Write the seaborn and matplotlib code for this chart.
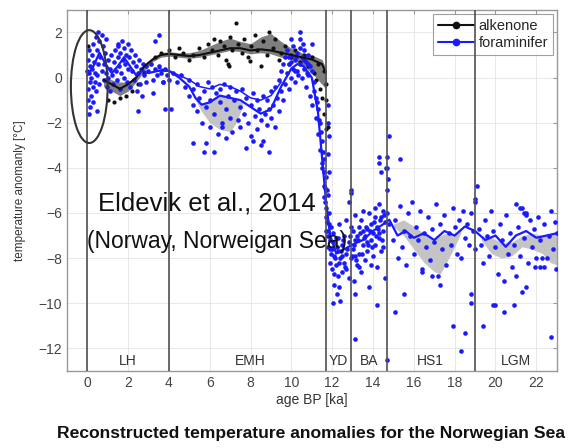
import numpy as np
import pandas as pd
import matplotlib
matplotlib.use("Agg")
import matplotlib.pyplot as plt
from matplotlib.patches import Ellipse
from matplotlib.lines import Line2D
import seaborn as sns

# ---------------- data ----------------
foram_pts_x = [
    0.0, 0.02, 0.05, 0.05, 0.08, 0.1, 0.1, 0.12, 0.15, 0.15, 0.2, 0.2, 0.22, 0.25, 0.28, 0.3, 0.3, 0.35, 0.38, 0.4,
    0.42, 0.45, 0.5, 0.5, 0.55, 0.55, 0.6, 0.6, 0.65, 0.7, 0.7, 0.75, 0.8, 0.8, 0.85, 0.9, 0.9, 0.95, 1.0, 1.0,
    1.1, 1.1, 1.15, 1.2, 1.25, 1.3, 1.35, 1.4, 1.45, 1.5, 1.5, 1.55, 1.6, 1.6, 1.65, 1.7, 1.75, 1.8, 1.8, 1.85,
    1.9, 1.95, 2.0, 2.0, 2.05, 2.1, 2.15, 2.2, 2.25, 2.3, 2.35, 2.4, 2.45, 2.5, 2.55, 2.6, 2.65, 2.7, 2.75, 2.8,
    2.9, 2.9, 3.0, 3.1, 3.2, 3.3, 3.4, 3.5, 3.6, 3.7, 3.8, 3.9, 4.0,
    0.5, 2.5, 1.5, 3.2, 3.8, 3.3, 3.5, 3.7, 4.1,
    4.2, 4.4, 4.6, 4.8, 5.0, 5.0, 5.2, 5.2, 5.4, 5.4, 5.5, 5.6, 5.7, 5.8, 5.8, 5.9, 6.0, 6.0, 6.1, 6.2,
    6.2, 6.3, 6.4, 6.5, 6.5, 6.6, 6.7, 6.8, 6.8, 6.9, 7.0, 7.0, 7.1, 7.2, 7.3, 7.4, 7.5, 7.5, 7.6, 7.7,
    7.8, 7.9, 8.0, 8.0, 8.1, 8.2, 8.3, 8.3, 8.4, 8.5, 8.5, 8.6, 8.7, 8.8, 8.8, 8.9, 9.0, 9.0, 9.1, 9.2,
    9.2, 9.3, 9.4, 9.4, 9.5, 9.5, 9.6, 9.6, 9.7, 9.7, 9.8, 9.8, 9.9, 9.9, 10.0, 10.0, 10.1, 10.1, 10.2, 10.2,
    10.3, 10.3, 10.4, 10.4, 10.5, 10.5, 10.6, 10.6, 10.7, 10.7, 10.8, 10.8, 10.9, 10.9, 11.0, 11.0, 11.1, 11.1, 11.2, 11.2,
    11.3, 11.3, 11.4, 11.4, 11.5, 11.5, 11.6, 11.6, 11.65, 11.7, 11.7, 11.75, 11.8, 11.8, 11.85, 11.9, 11.9, 11.95, 11.95,
    11.8, 11.8, 11.85, 11.8, 11.85, 11.8,
    5.7, 5.2, 6.6, 7.8, 8.1, 8.6, 8.9, 10.0, 11.0, 10.4,
    10.0, 10.2, 10.4, 10.6, 10.8, 10.35, 10.55, 10.25, 10.75, 9.9,
    11.25, 11.35, 11.45, 11.55, 11.6, 11.65, 11.7, 11.75, 11.8, 11.85, 11.9, 11.5, 11.6, 11.7,
    12.0, 12.0, 12.05, 12.1, 12.1, 12.2, 12.2, 12.25, 12.3, 12.3, 12.35, 12.4, 12.4, 12.5, 12.5, 12.6, 12.6, 12.7, 12.7, 12.8,
    12.8, 12.9, 12.9, 13.0, 13.0, 13.05, 13.1, 13.1, 13.2, 13.2, 13.3, 13.3, 13.4, 13.4, 13.5, 13.5, 13.6, 13.6, 13.7, 13.7,
    13.8, 13.8, 13.9, 13.9, 14.0, 14.0, 14.1, 14.1, 14.2, 14.2, 14.3, 14.3, 14.4, 14.4, 14.5, 14.5, 14.6, 14.6, 14.65, 14.7,
    14.7, 14.75, 14.7, 14.8, 14.8,
    12.05, 12.15, 12.25, 12.35, 12.45, 12.55, 12.65, 12.75, 12.85, 12.95, 13.05, 13.15, 13.25, 13.35, 13.45, 13.55,
    13.65, 13.75, 13.85, 13.95, 14.05, 14.15, 14.25, 14.35, 14.45, 14.55,
    12.1, 12.3, 12.5, 12.7, 12.9, 13.1, 13.3, 13.5, 13.7, 13.9, 14.1, 14.3, 14.5,
    13.1, 13.1, 14.2, 14.7, 15.1, 15.5, 12.05, 12.35, 12.9, 12.8, 14.3, 14.3, 14.4, 15.3, 14.7,
    15.0, 15.1, 15.2, 15.3, 15.4, 15.5, 15.6, 15.7, 15.8, 15.9, 16.0, 16.1, 16.2, 16.3, 16.4, 16.5, 16.6, 16.7, 16.8, 16.9,
    17.0, 17.1, 17.2, 17.3, 17.4, 17.5, 17.6, 17.7, 17.8, 17.9, 18.0, 18.1, 18.2, 18.3, 18.4, 18.5, 18.6, 18.7, 18.8, 18.9,
    19.0, 19.0,
    17.9, 18.5, 18.3, 18.8, 18.8, 17.3, 16.9, 16.4, 19.4, 19.1, 19.0,
    19.2, 19.3, 19.4, 19.5, 19.6, 19.7, 19.8, 19.9, 20.0, 20.1, 20.2, 20.3, 20.4, 20.5, 20.6, 20.7, 20.8, 20.9, 21.0, 21.1,
    21.2, 21.3, 21.4, 21.5, 21.6, 21.7, 21.8, 21.9, 22.0, 22.1, 22.2, 22.3, 22.4, 22.5, 22.6, 22.7, 22.8, 22.9, 22.95, 23.0,
    20.0, 19.9, 20.4, 20.9, 22.7, 21.95, 22.2, 22.4, 21.5, 21.3, 21.0, 21.2, 21.4, 21.5,
]
foram_pts_y = [
    0.3, -0.5, 0.8, -1.0, 0.2, -1.6, 1.2, -0.2, 0.5, -1.3, 0.0, -0.8, 1.0, 0.4, -0.4, 1.5, -1.1, 0.7, -0.2, 0.2,
    1.8, -0.6, 1.2, 0.1, 2.0, 0.6, 1.6, -0.3, 0.9, 1.9, 0.3, 1.4, 0.6, -0.1, 1.1, 0.2, 1.7, -0.4, 0.8, 0.0,
    0.4, -0.6, 1.0, 0.1, -0.3, 0.7, 1.2, 0.3, -0.1, 0.9, 1.4, 0.5, 1.1, -0.5, 0.2, 1.6, 0.8, 1.3, 0.0, 0.6,
    1.0, -0.2, 1.5, 0.4, 0.9, -0.4, 1.2, 0.3, 0.7, -0.1, 1.0, 0.5, -0.6, 0.2, 0.8, -0.3, 0.4, -0.8, 0.6, 0.1,
    0.5, -0.2, 0.3, 0.6, -0.1, 0.4, 0.1, 0.5, 0.2, -0.2, 0.4, 0.1, -0.1,
    -1.5, -1.5, 1.5, -0.7, -1.4, 1.6, 1.9, -0.2, -1.4,
    0.2, -0.2, 0.1, -0.4, -0.1, -0.8, -0.5, -1.2, -0.3, -1.5, -0.9, -2.0, -0.6, -1.3, -2.9, -0.2, -1.0, -2.2, -0.4, -1.6,
    -3.3, -0.7, -2.5, -0.5, -1.1, -2.0, -0.3, -1.4, -2.7, -0.8, -1.8, -0.4, -2.4, -1.0, -0.6, -1.9, -1.3, -2.2, -0.5, -1.6,
    -0.9, -2.0, -1.2, -2.6, -0.7, -1.7, -1.0, -2.3, -1.4, -1.9, -3.0, -0.8, -1.6, -2.1, -1.0, -1.4, -1.8, -0.6, -1.2, -2.2,
    -0.4, -0.9, -1.5, -0.1, -0.6, 0.3, -1.0, 0.6, -0.3, 0.9, 0.2, 1.2, -0.5, 0.6, 1.0, 0.0, 0.4, 1.4, 0.8, -0.2,
    1.1, 0.3, 0.6, 1.7, 0.9, 0.0, 1.2, 0.4, 0.7, -0.4, 1.0, 0.1, 0.5, -0.8, 0.3, -1.2, -0.2, -0.6, -1.8, -0.9,
    -1.4, -2.5, -2.0, -3.2, -2.8, -4.0, -3.6, -4.8, -5.5, -4.4, -6.2, -5.0, -6.8, -7.5, -6.0, -7.2, -8.2, -7.8, -6.6,
    -1.2, -2.0, -2.6, -3.4, -4.2, -5.2,
    -3.3, -2.9, -2.2, -3.1, -2.8, -2.8, -3.3, 1.7, 1.5, 2.0,
    0.7, 0.3, 1.3, 0.8, 0.6, 0.1, 1.5, 0.9, 0.2, 0.9,
    -1.1, -1.9, -2.4, -3.3, -4.2, -4.9, -5.8, -6.4, -7.0, -6.5, -7.6, -3.8, -5.3, -6.8,
    -7.6, -8.5, -6.9, -9.2, -7.9, -8.3, -7.1, -9.6, -7.7, -8.8, -6.5, -8.0, -9.9, -7.4, -8.6, -7.0, -8.2, -7.8, -6.3, -8.9,
    -7.3, -5.1, -8.0, -6.8, -7.6, -9.0, -7.2, -6.1, -8.3, -7.0, -6.6, -7.8, -8.6, -6.3, -7.4, -5.9, -7.0, -8.1, -6.7, -7.7,
    -6.0, -9.3, -7.2, -6.5, -7.9, -6.9, -5.8, -7.4, -8.4, -6.6, -7.1, -5.6, -6.2, -7.7, -6.8, -5.9, -6.4, -8.9, -4.0, -3.5,
    -6.0, -4.5, -5.0, -6.5, -2.6,
    -7.3, -8.0, -7.5, -8.2, -7.7, -7.2, -8.4, -7.6, -7.0, -7.9, -7.4, -8.1, -7.2, -6.9, -7.8, -7.1,
    -6.6, -7.4, -6.8, -7.5, -6.4, -7.0, -6.7, -6.3, -7.2, -6.1,
    -8.7, -7.1, -7.9, -8.5, -6.6, -7.9, -8.4, -6.8, -7.3, -8.3, -6.2, -6.9, -7.5,
    -11.6, -9.6, -10.1, -12.5, -10.4, -9.6, -10.0, -9.3, -5.0, -5.5, -3.5, -3.8, -4.2, -3.6, -4.0,
    -7.2, -6.3, -8.0, -5.7, -7.5, -6.8, -8.3, -6.0, -7.0, -5.5, -7.8, -6.6, -7.2, -5.9, -8.6, -6.9, -7.5, -6.2, -8.1, -6.7,
    -7.3, -5.6, -8.8, -6.5, -7.6, -6.1, -8.3, -6.9, -7.4, -5.8, -6.6, -7.8, -6.3, -8.0, -5.9, -7.1, -6.5, -7.4, -6.0, -6.8,
    -5.4, -7.6,
    -11.0, -11.3, -12.1, -9.6, -10.0, -9.2, -8.8, -8.5, -11.0, -4.8, -5.5,
    -6.7, -7.4, -8.2, -6.3, -7.0, -7.9, -5.9, -6.8, -7.5, -8.7, -6.5, -7.2, -9.0, -6.1, -7.8, -6.9, -8.4, -7.4, -5.6, -6.6,
    -7.9, -5.8, -7.1, -6.0, -8.2, -6.3, -7.5, -6.7, -8.0, -6.2, -7.2, -8.0, -6.5, -8.0, -7.0, -5.9, -7.6, -6.4, -8.5, -6.9,
    -10.1, -10.1, -10.4, -10.1, -11.5, -8.4, -8.4, -8.4, -9.3, -9.5, -8.8, -5.8, -6.0, -6.1,
]

alk_pts_x = [0.05, 1.0, 1.3, 1.6, 1.9, 2.2, 2.5, 2.8,
             3.3, 3.6, 4.0, 4.3, 4.5, 4.7, 5.0, 5.2, 5.5, 5.7, 5.9, 6.1, 6.2, 6.4, 6.5, 6.7, 6.8,
             7.0, 7.1, 7.3, 7.4, 7.6, 7.7, 7.9, 8.0, 8.2, 8.3, 8.5, 8.6, 8.8, 8.9, 9.1, 9.2, 9.4,
             9.5, 9.7, 9.9, 10.0, 10.2, 10.4, 10.6, 10.8, 11.0, 11.1, 11.2, 11.3, 11.4, 11.5, 11.6,
             11.7, 11.7, 11.6, 11.7, 11.8, 6.9, 6.95, 7.95]
alk_pts_y = [1.4, -1.0, -1.1, -0.9, -0.8, -0.6, -0.3, 0.2,
             0.9, 1.1, 1.2, 0.9, 1.3, 1.1, 0.8, 1.0, 1.3, 0.9, 1.5, 1.2, 1.7, 1.0, 1.6, 1.4, 0.8,
             1.8, 1.2, 2.4, 1.5, 1.1, 1.7, 0.9, 1.4, 1.9, 1.2, 0.5, 1.6, 1.0, 2.0, 1.3, 1.7, 0.8,
             1.1, 1.4, 0.6, 0.9, 1.2, 0.7, 1.0, 0.5, 0.9, 0.2, -0.1, 0.6, -0.5, -0.9, -1.6,
             -2.3, -0.3, 0.3, -1.0, -2.2, 0.6, 0.5, 0.75]

foram_x = [0, 0.3, 0.6, 0.9, 1.2, 1.5, 1.8, 2.1, 2.4, 2.7, 3.0, 3.5, 4.0, 4.5, 5.0, 5.3, 5.6, 6.0, 6.5, 7.0,
           7.5, 8.0, 8.5, 9.0, 9.5, 10.0, 10.3, 10.6, 11.0, 11.3, 11.5, 11.7, 11.9, 12.2, 12.6, 13.0, 13.5, 14.0, 14.5, 14.8,
           15.2, 15.6, 16.0, 16.5, 17.0, 17.5, 18.0, 18.5, 19.0, 19.5, 20.0, 20.5, 21.0, 21.5, 22.0, 22.5, 23.0]
foram_y = [0.1, 0.5, 1.1, 0.6, 0.2, 0.5, 0.9, 0.5, 0.1, 0.3, 0.2, 0.3, 0.3, 0.0, -0.4, -0.9, -1.2, -1.1, -0.8, -0.9,
           -1.0, -1.3, -1.6, -1.4, -0.4, 0.4, 0.6, 0.5, 0.0, -1.5, -3.5, -5.5, -7.0, -7.8, -7.6, -7.4, -7.2, -6.8, -6.5, -6.3,
           -7.0, -6.8, -7.1, -6.9, -7.2, -6.8, -7.0, -6.6, -6.8, -7.2, -7.0, -7.5, -7.0, -6.8, -7.1, -7.0, -6.9]

foram2_x = [3.5, 4.0, 4.5, 5.0, 5.5, 6.0, 6.5, 7.0, 7.5, 8.0, 8.5, 9.0, 9.5]
foram2_y = [0.4, 0.3, 0.1, -0.1, -0.4, -0.5, -0.3, -0.4, -0.6, -0.9, -1.0, -0.8, -0.2]

alk_x = [0.8, 1.2, 1.6, 2.0, 2.4, 2.8, 3.2, 3.6, 4.0, 4.5, 5.0, 5.5, 6.0, 6.5, 7.0, 7.5, 8.0, 8.5, 9.0, 9.5,
         10.0, 10.5, 11.0, 11.5, 11.7]
alk_y = [-0.1, -0.3, -0.5, -0.3, 0.0, 0.5, 0.8, 1.0, 1.05, 1.0, 0.95, 1.0, 1.1, 1.2, 1.3, 1.3, 1.2, 1.25, 1.2, 1.1,
         1.0, 0.9, 0.8, 0.6, 0.2]
alk_hi = [0.0, -0.1, -0.2, -0.2, 0.1, 0.6, 0.9, 1.1, 1.15, 1.1, 1.1, 1.2, 1.4, 1.6, 1.75, 1.6, 1.5, 1.8, 1.95, 1.6,
          1.3, 1.1, 1.0, 0.8, 0.4]
alk_lo = [-0.4, -0.6, -0.8, -0.6, -0.2, 0.3, 0.7, 0.9, 0.95, 0.9, 0.85, 0.9, 1.0, 1.1, 1.2, 1.15, 1.05, 1.1, 1.05, 0.9,
          0.8, 0.6, 0.2, -0.3, -0.5]

bandA_x = [5.3, 5.6, 6.0, 6.5, 7.0, 7.3, 7.6]
bandA_hi = [-0.9, -1.2, -1.1, -0.8, -0.9, -1.0, -1.1]
bandA_lo = [-1.0, -1.5, -2.0, -2.3, -2.4, -2.0, -1.3]
bandB_x = [15.0, 15.5, 16.0, 16.5, 17.0, 17.3, 17.6, 18.0, 18.3]
bandB_hi = [-6.5, -6.3, -6.6, -6.9, -7.2, -7.0, -6.9, -7.0, -6.7]
bandB_lo = [-6.6, -7.0, -7.6, -8.2, -8.6, -8.7, -8.2, -7.5, -6.9]
bandC_x = [19.3, 19.8, 20.3, 20.8, 21.3, 21.8, 22.3, 22.7, 23.0]
bandC_hi = [-7.0, -7.1, -7.3, -7.3, -7.0, -6.9, -7.0, -7.0, -6.9]
bandC_lo = [-7.2, -7.8, -8.0, -7.9, -7.5, -7.6, -7.8, -8.2, -8.3]

period_bounds = [0, 4, 11.7, 12.9, 14.7, 19]
period_names = ["LH", "EMH", "YD", "BA", "HS1", "LGM"]
period_label_x = [2, 8, 12.3, 13.8, 16.8, 21]

x_ticks = [0, 2, 4, 6, 8, 10, 12, 14, 16, 18, 20, 22]
y_ticks = [2, 0, -2, -4, -6, -8, -10, -12]

# ---------------- drawing ----------------
sns.set_style("white")
plt.rcParams["font.family"] = ["Liberation Sans", "DejaVu Sans"]
plt.rcParams["axes.unicode_minus"] = True

fig = plt.figure(figsize=(5.71, 4.48), dpi=100)
ax = fig.add_axes([0.117, 0.172, 0.858, 0.806])

BLUE = "#1a1aff"
ax.grid(True, color="#e4e4e4", lw=0.6)
ax.set_axisbelow(True)

# uncertainty bands
ax.fill_between(alk_x, alk_lo, alk_hi, color="#7f7f7f", lw=0, zorder=1)
for bx, blo, bhi in [(bandA_x, bandA_lo, bandA_hi), (bandB_x, bandB_lo, bandB_hi), (bandC_x, bandC_lo, bandC_hi)]:
    ax.fill_between(bx, blo, bhi, color="#c4c4c4", lw=0, zorder=1)

df_f = pd.DataFrame({"age": foram_pts_x, "temp": foram_pts_y})
df_a = pd.DataFrame({"age": alk_pts_x, "temp": alk_pts_y})
sns.scatterplot(data=df_a, x="age", y="temp", ax=ax, color="#111111", s=9, linewidth=0, zorder=3)
sns.scatterplot(data=df_f, x="age", y="temp", ax=ax, color=BLUE, s=11, linewidth=0, zorder=4)

sns.lineplot(x=alk_x, y=alk_y, ax=ax, color="#111111", lw=1.5, zorder=5, sort=False)
sns.lineplot(x=foram_x, y=foram_y, ax=ax, color=BLUE, lw=1.6, zorder=6, sort=False)
sns.lineplot(x=foram2_x, y=foram2_y, ax=ax, color=BLUE, lw=1.1, zorder=6, sort=False)

for b in period_bounds:
    ax.axvline(b, color="#505050", lw=1.2, zorder=7)
for name, lx in zip(period_names, period_label_x):
    ax.text(lx, -12.55, name, ha="center", va="center", fontsize=10, color="#333333", zorder=8)

ax.add_patch(Ellipse((0.1, -0.4), 1.8, 5.0, fill=False, edgecolor="#333333", lw=1.5, zorder=9))

ax.text(5.85, -5.6, "Eldevik et al., 2014", ha="center", va="center", fontsize=18.5, color="#111111", zorder=10)
ax.text(6.35, -7.25, "(Norway, Norweigan Sea)", ha="center", va="center", fontsize=16.5, color="#111111", zorder=10)

ax.set_xlim(-1, 23)
ax.set_ylim(-13, 3)
ax.set_xticks(x_ticks)
ax.set_yticks(y_ticks)
ax.tick_params(direction="in", length=3, colors="#999999", labelcolor="#444444", labelsize=10,
               top=True, right=True)
for sp in ax.spines.values():
    sp.set_visible(True)
    sp.set_color("#999999")
    sp.set_linewidth(1.0)

ax.set_xlabel("age BP [ka]", fontsize=10, color="#333333", labelpad=2)
ax.set_ylabel("temperature anomanly [°C]", fontsize=8.5, color="#333333", labelpad=9)

# legend
handles = [Line2D([], [], color="#111111", lw=1.5, marker="o", ms=4.5),
           Line2D([], [], color=BLUE, lw=1.5, marker="o", ms=4.5)]
leg = ax.legend(handles, ["alkenone", "foraminifer"], loc="upper right", fontsize=10.5,
                frameon=True, fancybox=False, handlelength=2.5, borderaxespad=0.25,
                handletextpad=0.3, borderpad=0.35, labelspacing=0.25)
leg.get_frame().set_edgecolor("#888888")
leg.get_frame().set_linewidth(0.8)

fig.text(0.545, 0.033, "Reconstructed temperature anomalies for the Norwegian Sea",
         ha="center", va="center", fontsize=12.6, fontweight="bold", color="#111111")

fig.savefig("out.png", dpi=100)
